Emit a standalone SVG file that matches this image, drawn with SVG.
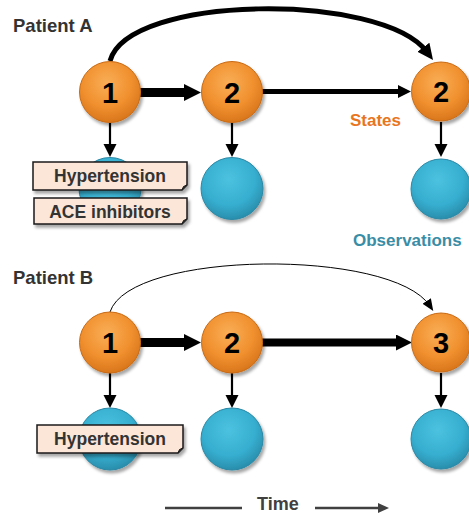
<svg xmlns="http://www.w3.org/2000/svg" width="469" height="514" viewBox="0 0 469 514">
<defs>
<radialGradient id="gOr" cx="0.45" cy="0.35" r="0.65">
<stop offset="0" stop-color="#F9AE57"/>
<stop offset="0.6" stop-color="#F1912F"/>
<stop offset="1" stop-color="#D9761C"/>
</radialGradient>
<radialGradient id="gBl" cx="0.45" cy="0.35" r="0.65">
<stop offset="0" stop-color="#4CC2E0"/>
<stop offset="0.65" stop-color="#36AECF"/>
<stop offset="1" stop-color="#2A8EAD"/>
</radialGradient>
<filter id="sh" x="-20%" y="-20%" width="150%" height="160%">
<feDropShadow dx="2" dy="3" stdDeviation="1.8" flood-color="#000" flood-opacity="0.35"/>
</filter>
<marker id="hBig" markerUnits="userSpaceOnUse" markerWidth="18" markerHeight="18" refX="4" refY="8.5" orient="auto">
<path d="M0,0 L17,8.5 L0,17 z" fill="#000"/>
</marker>
<marker id="hMid" markerUnits="userSpaceOnUse" markerWidth="16" markerHeight="16" refX="4" refY="6.5" orient="auto">
<path d="M0,0 L13,6.5 L0,13 z" fill="#000"/>
</marker>
<marker id="hB" markerUnits="userSpaceOnUse" markerWidth="18" markerHeight="18" refX="4" refY="8" orient="auto">
<path d="M0,0 L16,8 L0,16 z" fill="#000"/>
</marker>
<marker id="hDown" markerUnits="userSpaceOnUse" markerWidth="14" markerHeight="14" refX="4" refY="6.5" orient="auto">
<path d="M0,0 L13,6.5 L0,13 z" fill="#000"/>
</marker>
<marker id="hCurve" markerUnits="userSpaceOnUse" markerWidth="18" markerHeight="18" refX="6" refY="7.5" orient="auto">
<path d="M0,0 L16,7.5 L0,15 z" fill="#000"/>
</marker>
<marker id="hThin" markerUnits="userSpaceOnUse" markerWidth="14" markerHeight="12" refX="6" refY="5" orient="auto">
<path d="M0,0 L12,5 L0,10 z" fill="#000"/>
</marker>
<marker id="hTime" markerUnits="userSpaceOnUse" markerWidth="14" markerHeight="12" refX="3" refY="5" orient="auto">
<path d="M0,0 L11,5 L0,10 z" fill="#404040"/>
</marker>
</defs>
<style>
.st{fill:url(#gOr);stroke:#C86A14;stroke-width:1;filter:url(#sh)}
.ob{fill:url(#gBl);stroke:#2A88A5;stroke-width:1;filter:url(#sh)}
.num{font-family:"Liberation Sans",Arial,sans-serif;font-weight:bold;font-size:29px;fill:#000;text-anchor:middle}
.lbl{font-family:"Liberation Sans",Arial,sans-serif;font-weight:bold;fill:#333}
.box{fill:#FCE6D8;stroke:#1a1a1a;stroke-width:1.5;filter:url(#sh)}
.btx{font-family:"Liberation Sans",Arial,sans-serif;font-weight:bold;font-size:17.5px;fill:#333;text-anchor:middle}
.ln{stroke:#000;fill:none}
</style>

<g id="titles">
<text class="lbl" x="13" y="32" font-size="18.5">Patient A</text>
<text class="lbl" x="13" y="284" font-size="18.5">Patient B</text>
<text class="lbl" x="350" y="126" font-size="17" style="fill:#E8761E">States</text>
<text class="lbl" x="353" y="246" font-size="17" style="fill:#3A8DA6">Observations</text>
</g>

<g id="connectors">
<path class="ln" d="M110,61 C128,-6 382,-8 427,52" stroke-width="5" marker-end="url(#hCurve)"/>
<line class="ln" x1="140" y1="92.5" x2="188" y2="92.5" stroke-width="9" marker-end="url(#hBig)"/>
<line class="ln" x1="262" y1="91.5" x2="402" y2="91.5" stroke-width="5" marker-end="url(#hMid)"/>
<line class="ln" x1="110" y1="123" x2="110" y2="148" stroke-width="2.2" marker-end="url(#hDown)"/>
<line class="ln" x1="232" y1="123" x2="232" y2="148" stroke-width="2.2" marker-end="url(#hDown)"/>
<line class="ln" x1="441" y1="122" x2="441" y2="148" stroke-width="2.2" marker-end="url(#hDown)"/>

<path class="ln" d="M110,312 C130,250 392,248 430,306" stroke-width="1" marker-end="url(#hThin)"/>
<line class="ln" x1="140" y1="342.5" x2="188" y2="342.5" stroke-width="9" marker-end="url(#hBig)"/>
<line class="ln" x1="262" y1="342.5" x2="400" y2="342.5" stroke-width="8" marker-end="url(#hB)"/>
<line class="ln" x1="110" y1="373" x2="110" y2="399" stroke-width="2.2" marker-end="url(#hDown)"/>
<line class="ln" x1="232" y1="373" x2="232" y2="399" stroke-width="2.2" marker-end="url(#hDown)"/>
<line class="ln" x1="441" y1="373" x2="441" y2="399" stroke-width="2.2" marker-end="url(#hDown)"/>
</g>

<g id="obsA1"><circle class="ob" cx="110" cy="188.5" r="31"/></g>
<g id="obsA2"><circle class="ob" cx="232" cy="188.5" r="31"/></g>
<g id="obsA3"><circle class="ob" cx="441" cy="189" r="30"/></g>
<g id="obsB1"><circle class="ob" cx="110" cy="439" r="31"/></g>
<g id="obsB2"><circle class="ob" cx="232" cy="439" r="31"/></g>
<g id="obsB3"><circle class="ob" cx="441" cy="439" r="30"/></g>

<g id="stateA1"><circle class="st" cx="110" cy="92" r="30.5"/><text class="num" x="110" y="102.5">1</text></g>
<g id="stateA2"><circle class="st" cx="232" cy="92" r="30.5"/><text class="num" x="232" y="102.5">2</text></g>
<g id="stateA3"><circle class="st" cx="441" cy="91.5" r="29.5"/><text class="num" x="441" y="102">2</text></g>
<g id="stateB1"><circle class="st" cx="110" cy="342.5" r="30.5"/><text class="num" x="110" y="353">1</text></g>
<g id="stateB2"><circle class="st" cx="232" cy="342.5" r="30.5"/><text class="num" x="232" y="353">2</text></g>
<g id="stateB3"><circle class="st" cx="441" cy="342.5" r="29.5"/><text class="num" x="441" y="353">3</text></g>

<g id="labelA1">
<path class="box" d="M33,162 H187 V185 L182,190 H33 Z"/>
<path d="M182,190 L183.5,186.5 L187,185" fill="#333" stroke="#1a1a1a" stroke-width="1"/>
<text class="btx" x="110" y="182">Hypertension</text>
</g>
<g id="labelA2">
<path class="box" d="M34,198 H187 V219 L182,224 H34 Z"/>
<path d="M182,224 L183.5,220.5 L187,219" fill="#333" stroke="#1a1a1a" stroke-width="1"/>
<text class="btx" x="110" y="218">ACE inhibitors</text>
</g>
<g id="labelB1">
<path class="box" d="M37,425 H183 V448 L178,453 H37 Z"/>
<path d="M178,453 L179.5,449.5 L183,448" fill="#333" stroke="#1a1a1a" stroke-width="1"/>
<text class="btx" x="110" y="445">Hypertension</text>
</g>

<g id="time">
<line x1="165" y1="508" x2="242" y2="508" stroke="#404040" stroke-width="2.5"/>
<line x1="315" y1="508" x2="381" y2="508" stroke="#404040" stroke-width="2.5" marker-end="url(#hTime)"/>
<text class="lbl" x="257" y="510" font-size="18" style="fill:#404040">Time</text>
</g>
</svg>
